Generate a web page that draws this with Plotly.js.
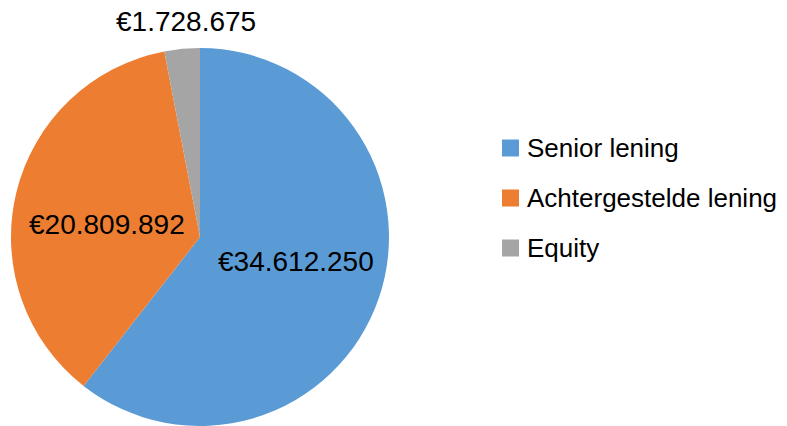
<!DOCTYPE html>
<html>
<head>
<meta charset="utf-8">
<script src="https://cdn.plot.ly/plotly-3.0.1.min.js"></script>
<style>html,body{margin:0;padding:0;background:#fff;}#chart{width:787px;height:426px;}</style>
</head>
<body>
<div id="chart"></div>
<script>
const labels = ["Senior lening", "Achtergestelde lening", "Equity"];
const values = [34612250, 20809892, 1728675];
const colors = ["#5B9BD5", "#ED7D31", "#A5A5A5"];

const W = 787, H = 426;
const FONT = "Liberation Sans, Arial, sans-serif";

function euro(v) {
  return "€" + String(Math.round(v)).replace(/\B(?=(\d{3})+(?!\d))/g, ".");
}

const trace = {
  type: "pie",
  labels: labels,
  values: values,
  sort: false,
  direction: "clockwise",
  rotation: 0,
  marker: {colors: colors, line: {width: 0}},
  textinfo: "none",
  hoverinfo: "label+value",
  showlegend: false,
  domain: {x: [11 / W, 389 / W], y: [0, 378 / H]}
};

const shapes = [], annotations = [];
const legX = 502, legSize = 17, legY0 = 148, legStep = 50;
labels.forEach((lab, i) => {
  const yc = legY0 + i * legStep;
  shapes.push({
    type: "rect", xref: "paper", yref: "paper",
    x0: legX / W, x1: (legX + legSize) / W,
    y0: 1 - (yc + legSize / 2) / H, y1: 1 - (yc - legSize / 2) / H,
    fillcolor: colors[i], line: {width: 0}
  });
  annotations.push({
    xref: "paper", yref: "paper",
    x: 525 / W, y: 1 - yc / H,
    xanchor: "left", yanchor: "middle",
    text: lab, showarrow: false,
    font: {family: FONT, size: 26, color: "#000"}
  });
});

// value labels (pixel centres of each label)
const labelPos = [[296, 261], [107, 224], [185.5, 22]];
values.forEach((v, i) => {
  annotations.push({
    xref: "paper", yref: "paper",
    x: labelPos[i][0] / W, y: 1 - labelPos[i][1] / H,
    xanchor: "center", yanchor: "middle",
    text: euro(v), showarrow: false,
    font: {family: FONT, size: 28, color: "#000"}
  });
});

const layout = {
  width: W, height: H,
  margin: {l: 0, r: 0, t: 0, b: 0},
  paper_bgcolor: "#fff",
  showlegend: false,
  shapes: shapes,
  annotations: annotations
};

Plotly.newPlot("chart", [trace], layout, {displayModeBar: false, staticPlot: true});
</script>
</body>
</html>
